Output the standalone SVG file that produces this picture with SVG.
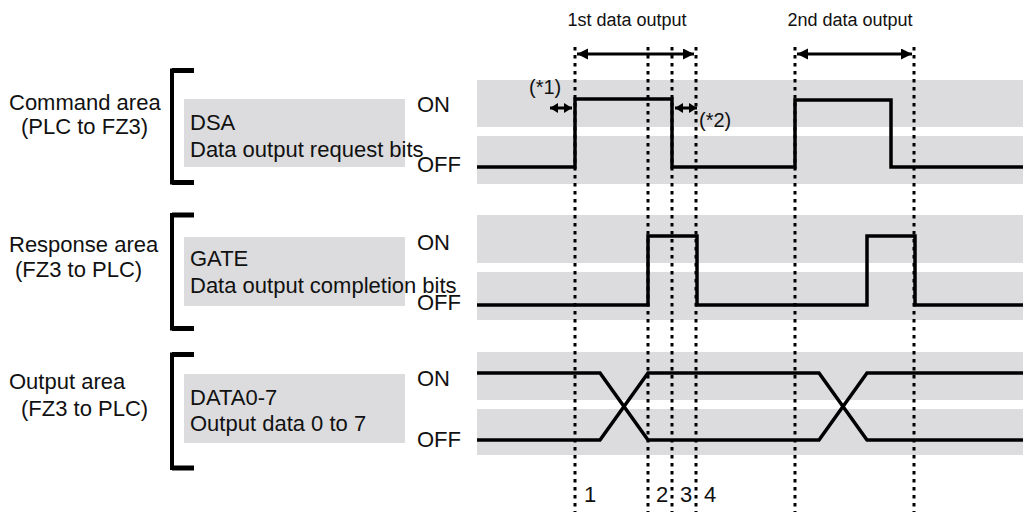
<svg xmlns="http://www.w3.org/2000/svg" width="1023" height="512" viewBox="0 0 1023 512">
<style>
text{font-family:"Liberation Sans",Arial,sans-serif;fill:#111}
.lbl{font-size:22px}
.hdr{font-size:18px}
.note{font-size:20px}
.band{fill:#dcdcde}
.box{fill:#dcdcde}
.sig{fill:none;stroke:#000;stroke-width:3.5;stroke-linejoin:miter}
.dot{fill:none;stroke:#000;stroke-width:3;stroke-dasharray:3.5 4.5}
.brk{fill:none;stroke:#000;stroke-width:4}
.bar{stroke:#000;stroke-width:5}
.arr{stroke:#000;stroke-width:3;marker-start:url(#ah);marker-end:url(#ah)}
.sarr{stroke:#000;stroke-width:3;marker-start:url(#sah);marker-end:url(#sah)}
</style>
<defs>
<marker id="ah" markerUnits="userSpaceOnUse" markerWidth="12" markerHeight="12" refX="11" refY="5.5" orient="auto-start-reverse"><path d="M0,0 L11,5.5 L0,11 z" fill="#000"/></marker>
<marker id="sah" markerUnits="userSpaceOnUse" markerWidth="10" markerHeight="10" refX="8" refY="5" orient="auto-start-reverse"><path d="M0,0 L8,5 L0,10 z" fill="#000"/></marker>
</defs>
<rect width="1023" height="512" fill="#fff"/>
<g id="bands">
<rect class="band" x="477" y="80" width="546" height="47"/>
<rect class="band" x="477" y="136" width="546" height="48"/>
<rect class="band" x="477" y="215" width="546" height="48"/>
<rect class="band" x="477" y="272" width="546" height="48"/>
<rect class="band" x="477" y="352" width="546" height="48"/>
<rect class="band" x="477" y="409" width="546" height="46"/>
</g>
<g id="command">
<text class="lbl" x="9" y="110">Command area</text>
<text class="lbl" x="21" y="134">(PLC to FZ3)</text>
<path class="brk" d="M194,70.5 H172 V182.5 H194"/>
<path class="bar" d="M172,70.5 H194 M172,182.5 H194"/>
<rect class="box" x="184" y="99" width="221" height="68"/>
<text class="lbl" x="190" y="130">DSA</text>
<text class="lbl" x="190" y="157">Data output request bits</text>
<text class="lbl" x="417" y="112">ON</text>
<text class="lbl" x="417" y="172">OFF</text>
</g>
<g id="response">
<text class="lbl" x="9" y="252">Response area</text>
<text class="lbl" x="15" y="277">(FZ3 to PLC)</text>
<path class="brk" d="M194,215 H172 V328.5 H194"/>
<path class="bar" d="M172,215 H194 M172,328.5 H194"/>
<rect class="box" x="184" y="237" width="221" height="69"/>
<text class="lbl" x="190" y="266">GATE</text>
<text class="lbl" x="190" y="293">Data output completion bits</text>
<text class="lbl" x="417" y="250">ON</text>
<text class="lbl" x="417" y="310">OFF</text>
</g>
<g id="output">
<text class="lbl" x="9" y="389">Output area</text>
<text class="lbl" x="21" y="416">(FZ3 to PLC)</text>
<path class="brk" d="M194,354.5 H172 V468 H194"/>
<path class="bar" d="M172,354.5 H194 M172,468 H194"/>
<rect class="box" x="184" y="374" width="221" height="69"/>
<text class="lbl" x="190" y="405">DATA0-7</text>
<text class="lbl" x="190" y="431">Output data 0 to 7</text>
<text class="lbl" x="417" y="386">ON</text>
<text class="lbl" x="417" y="447">OFF</text>
</g>
<g id="connectors">
<path class="sig" d="M477,167 H575 V99 H672 V167 H795 V100 H891 V167 H1023"/>
<path class="sig" d="M477,305 H648 V236 H697 V305 H867 V236 H915 V305 H1023"/>
<path class="sig" d="M477,373 H600 L648,440 H819 L867,373 H1023"/>
<path class="sig" d="M477,440 H600 L648,373 H819 L867,440 H1023"/>
<path class="dot" d="M575,47 V512 M648,47 V512 M672,47 V512 M696,47 V512 M795,47 V512 M914,47 V512"/>
<line class="arr" x1="577" y1="54" x2="694" y2="54"/>
<line class="arr" x1="797" y1="54" x2="912" y2="54"/>
<line class="sarr" x1="550" y1="108" x2="572" y2="108"/>
<line class="sarr" x1="675" y1="108" x2="697" y2="108"/>
</g>
<g id="annotations">
<text class="hdr" x="627" y="26" text-anchor="middle">1st data output</text>
<text class="hdr" x="850" y="26" text-anchor="middle">2nd data output</text>
<text class="note" x="529" y="94">(*1)</text>
<text class="note" x="699" y="127">(*2)</text>
<text class="lbl" x="584" y="502">1</text>
<text class="lbl" x="656" y="502">2</text>
<text class="lbl" x="680" y="502">3</text>
<text class="lbl" x="704" y="502">4</text>
</g>
</svg>
